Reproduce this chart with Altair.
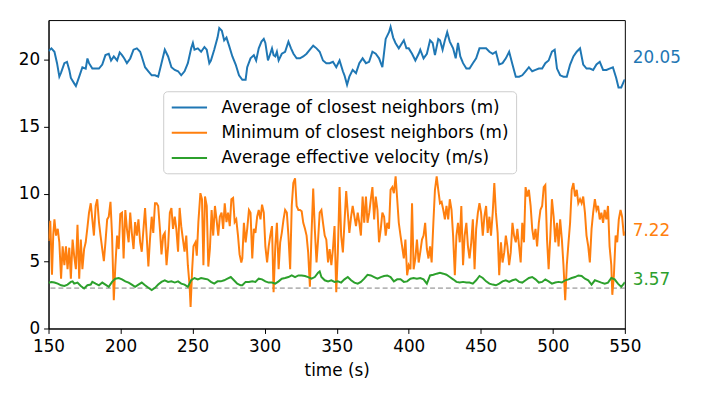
import altair as alt
import pandas as pd

LABELS = ["Average of closest neighbors (m)",
          "Minimum of closest neighbors (m)",
          "Average effective velocity (m/s)"]
COLORS = ["#1f77b4", "#ff7f0e", "#2ca02c"]

avg_t = [150, 152, 154.1, 155.9, 157.5, 158.7, 161.0, 162.8, 164.4, 165.5, 167.8, 169.0, 171.3, 173.5, 175.8, 177.0,
         178.1, 180.4, 182.7, 185.0, 187.3, 189.5, 191.8, 193.4, 195.3, 197.6, 199.4, 201.0, 202.6, 204.4, 206.7,
         209.0, 211.3, 213.6, 214.7, 217.0, 219.3, 221.6, 223.9, 226.1, 228.4, 230.7, 233.0, 235.3, 237.6, 239.9,
         242.1, 244.4, 246.7, 249.0, 250.2, 251.3, 253.6, 255.9, 258.2, 259.8, 261.6, 262.7, 265.0, 267.3, 268.5,
         270.3, 271.9, 273.5, 275.3, 277.6, 279.9, 282.2,
         284.5, 286.8, 287.9, 290.2, 292.5, 294.1, 295.9, 297.8, 299.4, 300.5, 302.3, 303.9, 305.1, 306.2, 307.4,
         308.5, 309.7, 311.9, 314.2, 316.5, 318.3, 320.0, 322.2, 324.5, 326.8, 329.1, 331.4, 333.7, 336.0, 338.2,
         340.5, 342.8, 345.1, 347.4, 349.7, 352.0, 354.3, 355.4, 357.2, 358.8, 361.1, 363.4, 365.7, 368.0, 370.3,
         372.5, 374.8, 377.1, 379.4, 381.7, 384.0, 386.3, 387.4, 389.2, 390.8, 393.1, 395.4, 396.6, 398.4, 400.0,
         402.3, 404.6, 406.9, 408.0, 410.3, 412.6,
         414.8, 416.6, 418.2, 420.5, 421.7, 423.5, 425.1, 426.7, 428.5, 430.8, 432.6, 434.2, 435.8, 437.7, 440.0,
         442.2, 444.5, 446.8, 449.1, 451.4, 453.7, 456.0, 458.3, 460.5, 462.8, 465.1, 467.4, 469.7, 472.0, 474.3,
         476.6, 478.8, 481.1, 483.4, 485.7, 488.0, 490.3, 492.6, 494.8, 497.1, 499.4, 501.3, 502.9, 505.1, 507.4,
         509.7, 512.0, 514.3, 516.6, 518.9, 521.1, 523.4, 525.7, 528.0, 530.3, 532.6, 534.9, 537.2, 539.4, 541.7,
         544.0, 545.6, 547.5, 549.3, 550]
avg_v = [20.6, 20.8, 20.55, 19.7, 18.7, 19.0, 19.7, 19.8, 19.2, 18.6, 18.2, 18.0, 18.7, 19.4, 19.3, 20.05,
         19.7, 19.3, 19.3, 19.3, 19.6, 20.3, 20.4, 19.9, 20.2, 19.9, 20.5, 20.3, 20.05, 19.7, 20.05,
         20.7, 20.8, 20.55, 20.2, 19.4, 19.1, 18.8, 18.8, 18.7, 19.7, 20.7, 20.2, 19.4, 19.2, 19.1,
         18.8, 19.1, 19.7, 20.8, 21.2, 20.7, 20.8, 20.55, 20.9, 20.7, 19.7, 19.9, 20.7, 21.6, 22.3,
         22.1, 21.4, 21.6, 21.0, 20.2, 19.6, 18.8,
         18.47, 18.47, 19.4, 20.06, 20.3, 19.9, 20.8, 21.3, 21.5, 21.2, 19.9, 20.4, 20.8, 20.3, 20.2,
         20.55, 19.9, 20.4, 20.55, 21.3, 20.8, 20.4, 20.06, 20.06, 20.2, 20.4, 20.7, 21.0, 20.8, 20.55,
         19.9, 19.7, 19.7, 19.8, 19.4, 19.9, 19.1, 18.8, 18.1, 18.7, 19.2, 18.96, 19.7, 20.06, 19.7,
         19.8, 20.55, 20.4, 20.06, 19.4, 21.5, 22.0, 22.4, 21.6, 21.2, 20.8, 21.2, 21.4, 20.8, 20.8,
         20.4, 19.9, 20.4, 20.7, 20.06, 20.4,
         21.4, 21.2, 20.3, 21.5, 21.4, 20.7, 21.4, 22.0, 21.3, 20.8, 20.06, 21.2, 20.2, 19.7, 19.3,
         19.3, 19.7, 20.06, 20.8, 20.8, 20.8, 20.55, 20.4, 20.55, 19.6, 19.7, 20.06, 20.55, 19.6, 18.7,
         18.7, 18.8, 19.1, 19.4, 19.1, 19.2, 19.3, 19.3, 19.7, 19.9, 20.55, 20.7, 19.3, 18.8, 18.7,
         18.7, 19.6, 20.2, 20.55, 20.8, 19.6, 19.3, 19.3, 19.2, 19.6, 19.8, 19.2, 19.2, 19.3, 19.4,
         18.6, 17.9, 17.9, 18.35, 18.5]

min_t = [150, 151.2, 152.4, 153.3,
         154.1, 155.2, 156.4, 157.5, 158.7, 159.8, 161.0, 162.1, 163.2, 164.4, 165.5, 166.7, 167.8, 169.0, 170.1,
         171.3, 172.4, 173.5, 174.7, 175.8, 177.0, 178.1, 179.3, 180.4, 181.5, 182.7, 183.8, 185.0, 186.1, 187.3,
         188.4, 189.5, 190.7, 191.8, 193.0, 194.1, 195.3, 196.4, 197.6, 198.7, 199.8, 201.0, 202.1, 203.3, 204.4,
         205.6, 206.7, 207.8, 209.0, 210.1, 211.3, 212.4, 213.6, 214.7, 215.9, 217.0, 218.1, 219.3, 220.4, 221.6,
         222.7, 223.9, 225.0, 226.1, 227.3, 228.4, 229.6, 230.7, 231.9, 233.0, 234.2, 235.3, 236.4, 237.6, 238.7,
         239.9, 241.0, 242.1, 243.3, 244.4, 245.6, 246.7, 247.9, 248.6, 249.7, 250.6, 252.0, 252.9, 254.0, 255.4,
         256.5, 257.5, 258.6, 259.8, 260.9, 262.0, 263.2, 264.3, 265.5, 266.6, 267.8, 268.9, 270.1, 271.2, 272.3,
         273.5, 274.6, 275.8, 276.9, 278.1, 279.2, 280.3, 281.5, 282.6, 283.8,
         284.5, 285.6, 286.8, 287.9, 289.1, 290.2, 291.4, 292.5, 293.6, 294.8, 295.9, 297.1, 298.2, 299.4, 300.5,
         301.7, 302.8, 303.9, 305.1, 306.2, 307.4, 308.5, 309.7, 310.8, 311.9, 313.1, 314.2, 315.4, 316.5, 317.7,
         318.8, 319.9, 321.1, 322.2, 323.4, 324.5, 325.7, 326.8, 328.0, 329.1, 330.2, 331.4, 332.5, 333.7, 334.8,
         336.0, 337.1, 338.2, 339.4, 340.5, 341.7, 342.8, 344.0, 345.1, 346.3, 347.4, 348.5, 349.7, 350.8, 352.0,
         353.1, 354.3, 355.4, 356.6, 357.7, 358.8, 360.0, 361.1, 362.3, 363.4, 364.6, 365.7, 366.8, 368.0, 369.1,
         370.3, 371.4, 372.6, 373.7, 374.8, 376.0, 377.1, 378.3, 379.4, 380.6, 381.7, 382.9, 384.0, 385.1, 386.3,
         387.4, 388.6, 389.7, 390.9, 392.0, 393.1, 394.3, 395.4, 396.6, 397.7, 398.9, 400.0, 401.2, 402.3, 403.4,
         404.6, 405.7, 406.9, 408.0, 409.2, 410.3, 411.4, 412.6, 413.7,
         414.8, 415.9, 417.1, 418.2, 419.4, 420.5, 421.7, 422.8, 424.0, 425.1, 426.2, 427.4, 428.5, 429.7, 430.8,
         432.0, 433.1, 434.2, 435.4, 436.5, 437.7, 438.8, 440.0, 441.1, 442.2, 443.4, 444.5, 445.7, 446.8, 448.0,
         449.1, 450.2, 451.4, 452.5, 453.7, 454.8, 456.0, 457.1, 458.3, 459.4, 460.5, 461.7, 462.8, 464.0, 465.1,
         466.3, 467.4, 468.5, 469.7, 470.8, 472.0, 473.1, 474.3, 475.4, 476.6, 477.7, 478.8, 480.0, 481.1, 482.3,
         483.4, 484.6, 485.7, 486.8, 488.0, 489.1, 490.3, 491.4, 492.6, 493.7, 494.8, 496.0, 497.1, 498.3, 499.4,
         500.6, 501.7, 502.9, 504.0, 505.1, 506.3, 507.4, 508.6, 509.7, 510.9, 512.0, 513.1, 514.3, 515.4, 516.6,
         517.7, 518.9, 520.0, 521.1, 522.3, 523.4, 524.6, 525.7, 526.9, 528.0, 529.2, 530.3, 531.4, 532.6, 533.7,
         534.9, 536.0, 537.2, 538.3, 539.4, 540.6, 541.3, 542.4, 543.6, 544.7, 545.8, 547.0, 548.1, 549.3, 550]
min_v = [6.5, 8.0, 4.0, 7.0,
         8.1, 6.9, 7.4, 6.4, 3.7, 6.1, 4.7, 6.1, 4.4, 6.0, 3.7, 6.6, 5.4, 4.4, 7.7,
         3.7, 6.6, 4.4, 5.9, 6.4, 7.5, 8.6, 9.3, 8.1, 6.9, 9.1, 9.6, 7.9, 6.9, 5.9,
         5.0, 6.4, 8.1, 8.3, 9.4, 6.9, 2.1, 4.7, 6.9, 5.9, 8.5, 8.6, 5.2, 8.8, 7.4,
         6.4, 8.6, 7.1, 5.9, 7.9, 6.9, 8.1, 6.4, 5.7, 7.4, 8.95, 6.9, 4.6, 6.6, 8.3,
         7.1, 9.3, 9.3, 9.1, 7.4, 5.5, 6.9, 7.1, 4.7, 6.1, 8.6, 8.95, 7.4, 8.3, 7.4,
         5.7, 8.95, 7.6, 6.6, 5.7, 6.9, 4.7, 3.2, 1.6, 4.4, 6.1, 6.4, 5.4, 7.9, 10.05,
         9.6, 4.7, 9.8, 9.1, 4.6, 5.9, 8.8, 6.9, 9.1, 8.1, 6.9, 8.3, 8.6, 7.4, 9.3,
         7.9, 8.6, 7.6, 9.6, 9.7, 7.9, 8.1, 6.9, 5.5, 4.9,
         5.2, 7.85, 6.4, 7.4, 8.8, 8.6, 5.2, 7.4, 7.1, 8.3, 8.8, 8.1, 9.2, 8.6, 6.1,
         4.9, 6.1, 6.9, 7.6, 2.7, 6.1, 7.85, 4.4, 6.4, 7.1, 8.1, 8.8, 8.6, 6.9, 4.4,
         9.1, 10.8, 11.15, 9.1, 8.8, 8.8, 8.7, 7.85, 7.4, 6.9, 5.65, 3.1, 6.9, 10.4, 7.4,
         4.9, 6.6, 8.6, 8.8, 7.85, 6.9, 6.6, 4.9, 5.9, 4.7, 5.9, 7.6, 2.7, 5.65, 10.5,
         6.9, 5.65, 7.85, 10.2, 8.6, 7.1, 8.3, 9.1, 8.3, 7.6, 8.6, 7.85, 6.9, 9.8, 7.85,
         9.8, 7.85, 8.6, 9.6, 10.5, 8.1, 9.8, 8.8, 6.4, 7.4, 8.6, 8.3, 6.9, 7.85, 7.4,
         10.3, 10.5, 10.05, 11.3, 9.6, 7.85, 6.9, 6.1, 5.2, 6.6, 3.95, 4.7, 4.4, 9.3, 4.4,
         5.2, 6.6, 4.9, 5.65, 6.6, 6.9, 7.85, 5.9, 5.2,
         6.1, 4.9, 7.85, 10.3, 11.3, 10.3, 9.3, 9.4, 8.8, 8.1, 9.1, 8.1, 9.6, 8.8, 6.9,
         3.95, 6.9, 7.85, 6.4, 9.1, 4.7, 6.9, 7.85, 6.1, 5.2, 6.4, 8.1, 4.4, 7.4, 8.6,
         9.3, 8.6, 6.9, 8.3, 9.1, 7.1, 8.3, 6.9, 8.6, 10.8, 8.6, 7.1, 3.95, 6.4, 4.9,
         5.65, 6.9, 6.1, 4.7, 5.65, 7.85, 6.9, 6.4, 7.4, 6.1, 4.9, 7.85, 6.4, 10.5, 9.8,
         10.3, 9.1, 7.4, 6.6, 7.4, 6.1, 7.85, 8.8, 9.1, 10.5, 10.65, 6.6, 4.4, 6.9, 9.6,
         8.3, 6.4, 7.85, 6.1, 8.1, 6.6, 4.7, 2.1, 4.7, 6.4, 7.85, 10.3, 10.8, 9.8, 10.3,
         9.3, 9.6, 9.3, 9.8, 8.6, 6.9, 6.1, 4.9, 7.4, 8.6, 9.6, 8.8, 9.1, 8.1, 8.6,
         7.85, 8.8, 8.1, 9.1, 6.1, 4.7, 2.5, 3.95, 6.9, 6.4, 8.1, 8.8, 8.3, 6.9, 7.2]

vel_t = [150, 152,
         154.1, 156.4, 158.7, 161.0, 163.2, 165.5, 166.7, 167.8, 170.1, 172.4, 174.7, 177.0, 179.3, 180.4, 182.7,
         185.0, 187.3, 189.5, 191.8, 194.1, 196.4, 198.7, 201.0, 203.3, 205.6, 207.8, 210.1, 212.4, 214.7, 217.0,
         219.3, 221.6, 223.9, 226.1, 228.4, 230.7, 233.0, 235.3, 237.6, 239.9, 242.1, 244.4, 246.7, 249.0, 251.3,
         253.6, 255.9, 258.2, 260.4, 262.7, 265.0, 267.3, 269.6, 271.9, 274.2, 276.5, 278.7, 281.0, 283.3,
         284.5, 286.8, 289.1, 291.4, 293.6, 295.9, 298.2, 300.5, 302.8, 305.1, 307.4, 309.7, 311.9, 314.2, 316.5,
         318.8, 321.1, 323.4, 325.7, 328.0, 330.2, 332.5, 334.8, 337.1, 338.2, 339.4, 341.7, 344.0, 346.3, 348.5,
         350.8, 353.1, 355.4, 357.7, 360.0, 362.3, 364.6, 366.8, 369.1, 371.4, 373.7, 376.0, 378.3, 380.6, 382.9,
         385.1, 387.4, 389.7, 392.0, 394.3, 396.6, 398.9, 401.2, 403.4, 405.7, 408.0, 410.3, 412.6,
         414.8, 417.1, 419.4, 421.7, 424.0, 426.2, 428.5, 430.8, 433.1, 435.4, 437.7, 440.0, 442.2, 444.5, 446.8,
         449.1, 451.4, 453.7, 456.0, 458.3, 460.5, 462.8, 465.1, 467.4, 469.7, 472.0, 474.3, 476.6, 478.8, 481.1,
         483.4, 485.7, 488.0, 490.3, 492.6, 494.8, 497.1, 499.4, 501.7, 504.0, 506.3, 508.6, 510.9, 513.1, 515.4,
         517.7, 520.0, 522.3, 524.6, 526.9, 529.2, 531.4, 533.7, 536.0, 538.3, 540.6, 542.9, 545.2, 547.5, 549.3, 550]
vel_v = [3.4, 3.45,
         3.41, 3.33, 3.21, 3.16, 3.26, 3.46, 3.5, 3.33, 3.41, 3.16, 2.97, 3.21, 3.26, 3.46, 3.33,
         3.21, 3.41, 3.26, 3.09, 3.46, 3.7, 3.75, 3.65, 3.5, 3.41, 3.26, 3.09, 3.26, 3.41, 3.21,
         3.02, 2.85, 3.02, 3.26, 3.46, 3.58, 3.46, 3.5, 3.41, 3.5, 3.33, 3.26, 3.09, 3.58, 3.75,
         3.65, 3.75, 3.7, 3.65, 3.46, 3.33, 3.5, 3.5, 3.58, 3.7, 3.82, 3.58, 3.33, 3.21,
         3.21, 3.46, 3.46, 3.5, 3.46, 3.7, 3.65, 3.5, 3.41, 3.41, 3.33, 3.5, 3.7, 3.75, 3.82,
         3.94, 3.82, 3.94, 3.94, 3.9, 3.82, 3.7, 3.82, 4.14, 4.24, 3.82, 3.58, 3.5, 3.58, 3.46,
         3.5, 3.41, 3.65, 3.82, 3.58, 3.41, 3.33, 3.46, 3.7, 3.99, 3.94, 3.82, 3.7, 3.82, 3.9,
         3.94, 3.82, 3.5, 3.65, 3.65, 3.46, 3.5, 3.7, 3.75, 3.7, 3.75, 3.65, 3.33,
         3.94, 3.99, 4.07, 4.14, 4.07, 3.99, 3.82, 3.65, 3.46, 3.41, 3.46, 3.41, 3.41, 3.33, 3.58,
         3.9, 3.75, 3.5, 3.33, 3.26, 3.21, 3.33, 3.5, 3.58, 3.46, 3.58, 3.65, 3.46, 3.41, 3.58,
         3.75, 3.82, 3.65, 3.41, 3.46, 3.65, 3.5, 3.33, 3.41, 3.46, 3.41, 3.58, 3.65, 3.75, 3.82,
         3.94, 3.9, 3.7, 3.58, 3.26, 3.58, 3.5, 3.41, 3.33, 3.41, 3.75, 3.65, 3.33, 3.09, 3.33, 3.45]

end_labels = ["20.05", "7.22", "3.57"]
end_values = [20.05, 7.22, 3.57]
threshold = [3.0]
x_ticks = [150, 200, 250, 300, 350, 400, 450, 500, 550]
y_ticks = [0, 5, 10, 15, 20]

rows = []
for name, ts, vs in zip(LABELS, [avg_t, min_t, vel_t], [avg_v, min_v, vel_v]):
    for t, v in zip(ts, vs):
        rows.append({"series": name, "t": t, "v": v})
df = pd.DataFrame(rows)

FONT = "DejaVu Sans"
FS = 17
xscale = alt.Scale(domain=[150, 550], nice=False, zero=False)
yscale = alt.Scale(domain=[0, 22.9], nice=False, zero=True)
cscale = alt.Scale(domain=LABELS, range=COLORS)

xaxis = alt.Axis(values=x_ticks, title="time (s)", format="d", labelFlush=False,
                 labelPadding=5, titlePadding=9)
yaxis = alt.Axis(values=y_ticks, title=None, format="d", labelFlush=False, labelPadding=4)

legend = alt.Legend(
    title=None, orient="none", legendX=116, legendY=72,
    symbolType="M-2.1,0H2.1", symbolSize=289, symbolStrokeWidth=2, symbolOffset=10,
    labelFontSize=FS, labelFont=FONT, labelColor="black", labelLimit=500,
    labelOffset=23, rowPadding=7.5, padding=7,
    strokeColor="#cccccc", fillColor="rgba(255,255,255,0.85)", cornerRadius=4,
)

layers = []
for i, name in enumerate(LABELS):
    layers.append(
        alt.Chart(df).transform_filter(alt.datum.series == name)
        .mark_line(strokeWidth=2, clip=True)
        .encode(
            x=alt.X("t:Q", scale=xscale, axis=xaxis),
            y=alt.Y("v:Q", scale=yscale, axis=yaxis),
            color=alt.Color("series:N", scale=cscale, sort=LABELS, legend=legend),
            order="t:Q",
        )
    )

rule = alt.Chart(pd.DataFrame({"y": threshold})).mark_rule(
    color="#808080", strokeDash=[5, 3], strokeWidth=1
).encode(y=alt.Y("y:Q", scale=yscale))

texts = []
for lab, val, col in zip(end_labels, end_values, COLORS):
    texts.append(
        alt.Chart(pd.DataFrame({"v": [val], "lab": [lab]}))
        .mark_text(align="left", baseline="middle", dx=8, fontSize=FS, font=FONT, color=col)
        .encode(x=alt.datum(550, scale=xscale), y=alt.Y("v:Q", scale=yscale), text="lab:N")
    )

chart = alt.layer(rule, *layers, *texts).properties(
    width=583, height=312,
    autosize=alt.AutoSizeParams(type="none"),
    padding={"left": 41, "top": 10, "right": 74, "bottom": 60},
).configure_view(stroke="black", strokeWidth=1).configure_axis(
    grid=False, domainColor="black", tickColor="black", tickSize=5, labelFontSize=FS,
    labelFont=FONT, labelColor="black", titleFont=FONT, titleFontSize=FS,
    titleFontWeight="normal", titleColor="black",
)

chart.save("out.html", embed_options={"renderer": "svg", "actions": False})
